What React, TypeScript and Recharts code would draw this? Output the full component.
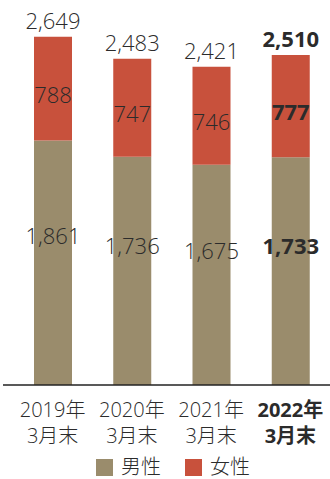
import React from 'react';
import { BarChart, Bar, XAxis, YAxis, Legend, LabelList } from 'recharts';

const years = ['2019年', '2020年', '2021年', '2022年'];
const periodSuffix = '3月末';
const male = [1861, 1736, 1675, 1733];
const female = [788, 747, 746, 777];
const seriesNames = ['男性', '女性'];
const colors = ['#9a8c6c', '#c8513c'];
const highlightIndex = 3;

const data = years.map((y, i) => ({
  year: y,
  male: male[i],
  female: female[i],
  total: male[i] + female[i],
}));

const FONT = '"Open Sans", "Noto Sans CJK JP", sans-serif';
const TEXT = '#2b2b2b';
const fmt = (v: number) => v.toLocaleString('en-US');

const Tick = (props: any) => {
  const { x, y, payload } = props;
  const bold = payload.value === years[highlightIndex];
  const common = {
    textAnchor: 'middle' as const,
    fontFamily: FONT,
    fontSize: 20,
    fontWeight: bold ? 700 : 300,
    fill: TEXT,
  };
  return (
    <g>
      <text x={x} y={y + 32} {...common}>{payload.value}</text>
      <text x={x} y={y + 58} {...common}>{periodSuffix}</text>
    </g>
  );
};

const makeSegLabel = (ratio: number) => (props: any) => {
  const { x, y, width, height, value, index } = props;
  const bold = index === highlightIndex;
  const cy = Number(y) + Number(height) * ratio;
  return (
    <text
      x={Number(x) + Number(width) / 2}
      y={cy + 8}
      textAnchor="middle"
      fontFamily={FONT}
      fontSize={22}
      fontWeight={bold ? 700 : 300}
      fill={TEXT}
    >
      {fmt(Number(value))}
    </text>
  );
};

const TotalLabel = (props: any) => {
  const { x, y, width, index } = props;
  const bold = index === highlightIndex;
  const d = data[index];
  return (
    <text
      x={Number(x) + Number(width) / 2}
      y={Number(y) - 8}
      textAnchor="middle"
      fontFamily={FONT}
      fontSize={22}
      fontWeight={bold ? 700 : 300}
      fill={TEXT}
    >
      {d ? fmt(d.total) : ''}
    </text>
  );
};

const LegendContent = () => (
  <div
    style={{
      height: 36,
      boxSizing: 'border-box',
      paddingTop: 12,
      paddingLeft: 13,
      display: 'flex',
      justifyContent: 'center',
      alignItems: 'center',
      fontFamily: FONT,
      fontSize: 20,
      fontWeight: 300,
      color: TEXT,
    }}
  >
    {seriesNames.map((n, i) => (
      <div key={n} style={{ display: 'flex', alignItems: 'center', marginLeft: i ? 24 : 0, height: 24 }}>
        <div style={{ width: 17, height: 17, background: colors[i], marginRight: 8 }} />
        <span style={{ lineHeight: '24px' }}>{n}</span>
      </div>
    ))}
  </div>
);

export default function App() {
  return (
    <div style={{ position: 'absolute', left: 0, top: 0, width: 330, height: 479, background: '#fff' }}>
      <BarChart
        width={330}
        height={479}
        data={data}
        margin={{ top: 17, right: 0, left: 3, bottom: 0 }}
        barSize={38}
      >
        <XAxis
          dataKey="year"
          axisLine={{ stroke: '#222', strokeWidth: 1.3 }}
          tickLine={false}
          tickSize={0}
          tickMargin={0}
          height={58}
          padding={{ left: 10, right: 0 }}
          tick={<Tick />}
          interval={0}
        />
        <YAxis hide domain={[0, 2800]} />
        <Legend verticalAlign="bottom" content={<LegendContent />} />
        <Bar dataKey="male" stackId="a" fill={colors[0]} isAnimationActive={false}>
          <LabelList dataKey="male" content={makeSegLabel(0.39)} />
        </Bar>
        <Bar dataKey="female" stackId="a" fill={colors[1]} isAnimationActive={false}>
          <LabelList dataKey="female" content={makeSegLabel(0.56)} />
          <LabelList dataKey="female" content={<TotalLabel />} />
        </Bar>
      </BarChart>
    </div>
  );
}
